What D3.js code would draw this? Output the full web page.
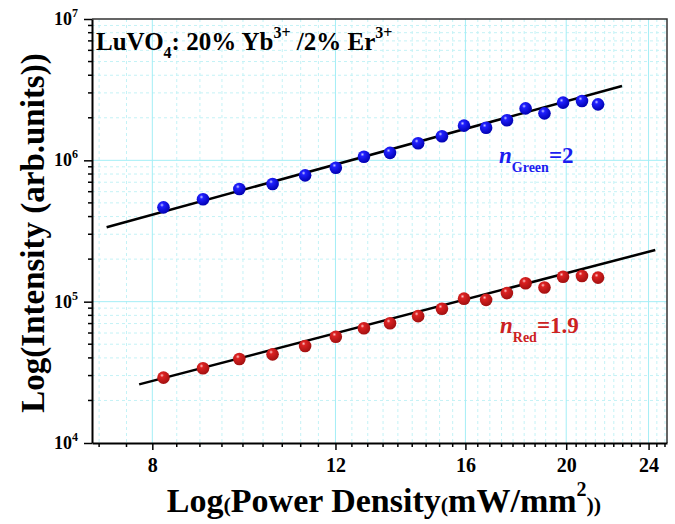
<!DOCTYPE html>
<html>
<head>
<meta charset="utf-8">
<script src="https://cdn.jsdelivr.net/npm/d3@7"></script>
<style>
  body { margin: 0; background: #fff; }
  text { font-family: "Liberation Serif", "Times New Roman", serif; font-weight: bold; }
</style>
</head>
<body>
<div id="chart"></div>
<script>
// power density (mW/mm2) for every measured point
const powerDensity = [8.2, 8.95, 9.7, 10.44, 11.22, 12.01, 12.78, 13.54, 14.41, 15.19, 15.95, 16.75, 17.54, 18.28, 19.06, 19.86, 20.71, 21.46];
// green emission intensity
const greenIntensity = [4.65e5, 5.3e5, 6.27e5, 6.8e5, 7.83e5, 8.87e5, 1.06e6, 1.13e6, 1.32e6, 1.48e6, 1.76e6, 1.7e6, 1.92e6, 2.33e6, 2.15e6, 2.56e6, 2.63e6, 2.49e6];
// red emission intensity
const redIntensity = [2.9e4, 3.38e4, 3.93e4, 4.24e4, 4.86e4, 5.65e4, 6.48e4, 7.03e4, 7.9e4, 8.9e4, 1.05e5, 1.03e5, 1.15e5, 1.35e5, 1.26e5, 1.5e5, 1.52e5, 1.48e5];
// linear fit end points (x, intensity)
const greenFit = [[7.23, 3.36e5], [22.63, 3.36e6]];
const redFit = [[7.77, 2.6e4], [24.36, 2.32e5]];
// axis ticks
const xTicks = [8, 12, 16, 20, 24];
const yTicks = [1e4, 1e5, 1e6, 1e7];
const xDomain = [7, 25];
const yDomain = [1e4, 1e7];

let w = 675,
    h = 524;

let margin = {
  top: 19,
  bottom: 81,
  left: 92,
  right: 8
};

let innerW = w - margin.left - margin.right,
    innerH = h - margin.top - margin.bottom;

let svg = d3.select("#chart")
            .append("svg")
            .attr("width", w)
            .attr("height", h);

let g = svg.append("g")
           .attr("transform", `translate(${margin.left}, ${margin.top})`);

let x = d3.scaleLog().domain(xDomain).range([0, innerW]);
let y = d3.scaleLog().domain(yDomain).range([innerH, 0]);

// minor ticks: 8 subdivisions between the majors (step 4/9)
let xStep = (xTicks[1] - xTicks[0]) / 9;
let xMinor = d3.range(-3, 45)
               .map(i => xTicks[0] + i * xStep)
               .filter(v => v > xDomain[0] && v < xDomain[1])
               .filter(v => !xTicks.some(t => Math.abs(t - v) < 1e-6));

let yMinor = [];
yTicks.slice(0, -1).forEach(d => {
  for (let k = 2; k <= 9; k++) yMinor.push(d * k);
});

// balls
let defs = svg.append("defs");
let makeBall = (id, light, mid, dark) => {
  let grad = defs.append("radialGradient")
                 .attr("id", id)
                 .attr("cx", "38%").attr("cy", "32%").attr("r", "70%");
  grad.append("stop").attr("offset", "0%").attr("stop-color", light);
  grad.append("stop").attr("offset", "22%").attr("stop-color", mid);
  grad.append("stop").attr("offset", "100%").attr("stop-color", dark);
};
makeBall("ballBlue", "#c8c8ff", "#2020ff", "#0000b0");
makeBall("ballRed", "#ffc8c8", "#dc2222", "#a01010");

// grid
g.append("g")
  .selectAll("line")
  .data(xMinor)
  .enter()
  .append("line")
  .attr("x1", d => x(d)).attr("x2", d => x(d))
  .attr("y1", 0).attr("y2", innerH)
  .style("stroke", "#c4f2f6")
  .style("stroke-dasharray", "3,3");

g.append("g")
  .selectAll("line")
  .data(yMinor)
  .enter()
  .append("line")
  .attr("y1", d => y(d)).attr("y2", d => y(d))
  .attr("x1", 0).attr("x2", innerW)
  .style("stroke", "#c4f2f6")
  .style("stroke-dasharray", "3,3");

g.append("g")
  .selectAll("line")
  .data(xTicks)
  .enter()
  .append("line")
  .attr("x1", d => x(d)).attr("x2", d => x(d))
  .attr("y1", 0).attr("y2", innerH)
  .style("stroke", "#a4eef6");

g.append("g")
  .selectAll("line")
  .data(yTicks.slice(1, -1))
  .enter()
  .append("line")
  .attr("y1", d => y(d)).attr("y2", d => y(d))
  .attr("x1", 0).attr("x2", innerW)
  .style("stroke", "#a4eef6");

// top and right frame
g.append("path")
  .attr("d", `M0,0H${innerW}V${innerH}`)
  .style("fill", "none")
  .style("stroke", "#333")
  .style("stroke-width", 1.5);

// x axis
let xAxis = g.append("g").attr("transform", `translate(0, ${innerH})`);
xAxis.call(d3.axisBottom(x).tickValues(xTicks).tickSize(7).tickSizeOuter(0).tickFormat(d3.format("d")).tickPadding(8));
xAxis.append("g")
  .selectAll("line")
  .data(xMinor)
  .enter()
  .append("line")
  .attr("x1", d => x(d)).attr("x2", d => x(d))
  .attr("y1", 0).attr("y2", 4)
  .style("stroke", "#000")
  .style("stroke-width", 1.5);
xAxis.select(".domain").style("stroke-width", 2);
xAxis.selectAll(".tick line").style("stroke-width", 1.5);
xAxis.selectAll(".tick text")
  .style("font-size", "20px")
  .style("font-family", "Liberation Serif, serif")
  .style("font-weight", "bold")
  .attr("fill", "#000");

// y axis
let yAxis = g.append("g");
yAxis.call(d3.axisLeft(y).tickValues(yTicks).tickSize(8).tickSizeOuter(0).tickFormat(""));
yAxis.append("g")
  .selectAll("line")
  .data(yMinor)
  .enter()
  .append("line")
  .attr("y1", d => y(d)).attr("y2", d => y(d))
  .attr("x1", 0).attr("x2", -4)
  .style("stroke", "#000")
  .style("stroke-width", 1.5);
yAxis.select(".domain").style("stroke-width", 2);
yAxis.selectAll(".tick line").style("stroke-width", 1.5);

// 10^n labels
let yLab = g.append("g")
  .selectAll("text")
  .data(yTicks)
  .enter()
  .append("text")
  .attr("x", -14)
  .attr("y", d => y(d) + 6)
  .attr("text-anchor", "end")
  .attr("fill", "#000")
  .style("font-size", "18px");
yLab.append("tspan").text("10");
yLab.append("tspan")
  .attr("dy", -8)
  .style("font-size", "12px")
  .text(d => Math.round(Math.log10(d)));

// fit lines
let line = d3.line().x(d => x(d[0])).y(d => y(d[1]));
[greenFit, redFit].forEach(f => {
  g.append("path")
    .attr("d", line(f))
    .style("fill", "none")
    .style("stroke", "#000")
    .style("stroke-width", 2.5);
});

// points
let series = [
  { values: greenIntensity, fill: "url(#ballBlue)" },
  { values: redIntensity, fill: "url(#ballRed)" }
];
series.forEach(s => {
  g.append("g")
    .selectAll("circle")
    .data(powerDensity)
    .enter()
    .append("circle")
    .attr("cx", d => x(d))
    .attr("cy", (d, i) => y(s.values[i]))
    .attr("r", 6.3)
    .style("fill", s.fill);
});

// sample label
let sample = svg.append("text")
  .attr("x", 96)
  .attr("y", 50)
  .style("font-size", "25px")
  .attr("fill", "#000");
sample.append("tspan").text("LuVO");
sample.append("tspan").attr("dy", 8).style("font-size", "16px").text("4");
sample.append("tspan").attr("dy", -8).text(": 20% Yb");
sample.append("tspan").attr("dy", -12).style("font-size", "16px").text("3+");
sample.append("tspan").attr("dy", 12).text(" /2% Er");
sample.append("tspan").attr("dy", -12).style("font-size", "16px").text("3+");

// slope labels
let nLabel = (px, py, sub, val, color) => {
  let t = svg.append("text")
    .attr("x", px)
    .attr("y", py)
    .attr("fill", color)
    .style("font-size", "23px");
  t.append("tspan").style("font-style", "italic").text("n");
  t.append("tspan").attr("dy", 9).style("font-size", "14px").text(sub);
  t.append("tspan").attr("dy", -9).text("=" + val);
};
nLabel(499, 163, "Green", "2", "#1c1cf0");
nLabel(500, 333, "Red", "1.9", "#cc2222");

// axis titles
let xTitle = svg.append("text")
  .attr("x", 384)
  .attr("y", 512)
  .attr("text-anchor", "middle")
  .style("font-size", "34px")
  .attr("fill", "#000");
xTitle.append("tspan").text("Log");
xTitle.append("tspan").style("font-size", "22px").text("(");
xTitle.append("tspan").text("Power Density");
xTitle.append("tspan").style("font-size", "22px").text("(");
xTitle.append("tspan").text("mW/mm");
xTitle.append("tspan").attr("dy", -16).style("font-size", "20px").text("2");
xTitle.append("tspan").attr("dy", 16).style("font-size", "22px").text("))");

svg.append("text")
  .attr("transform", "translate(44, 233) rotate(-90)")
  .attr("text-anchor", "middle")
  .style("font-size", "33px")
  .attr("fill", "#000")
  .text("Log(Intensity (arb.units))");
</script>
</body>
</html>
